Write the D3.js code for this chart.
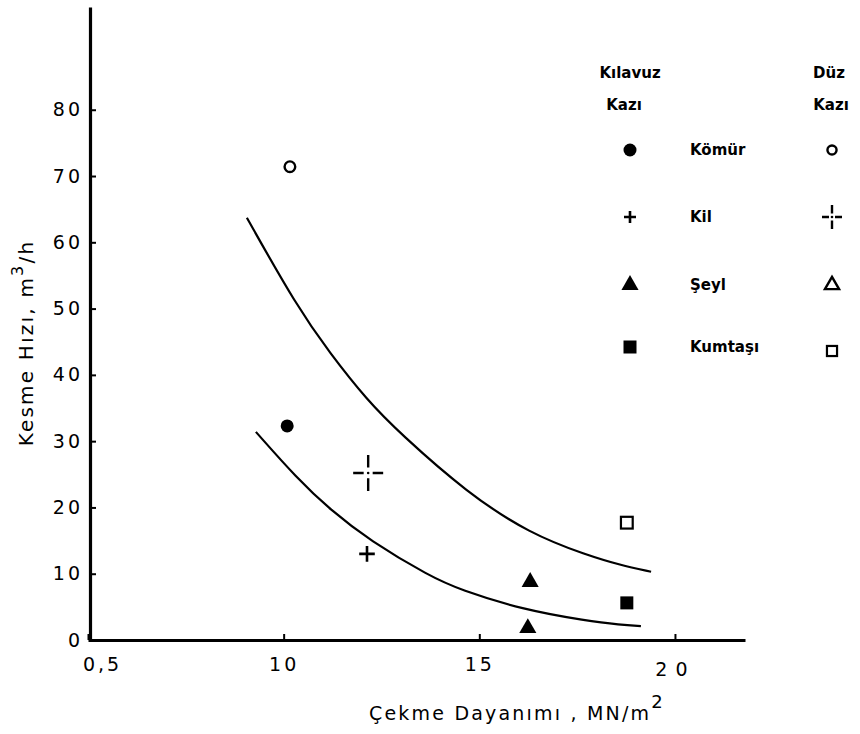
<!DOCTYPE html>
<html>
<head>
<meta charset="utf-8">
<script src="https://cdn.jsdelivr.net/npm/d3@7"></script>
<style>
  body { margin: 0; background: #fff; }
  svg { display: block; font-family: "DejaVu Sans", sans-serif; }
</style>
</head>
<body>
<svg id="drawing_region"></svg>
<script>
// tick values / labels
const xTickValues = [5, 10, 15, 20]
const xTickLabels = ['0,5', '10', '15', '20']
const yTickValues = [0, 10, 20, 30, 40, 50, 60, 70, 80]

// materials + legend
const materials = ['Kömür', 'Kil', 'Şeyl', 'Kumtaşı']
const kilavuzSymbols = ['dot', 'plus', 'tri', 'square']
const duzSymbols = ['ring', 'dashcross', 'opentri', 'opensquare']

// Kılavuz kazı points (filled)
const kilavuzMaterial = ['Kömür', 'Kil', 'Şeyl', 'Şeyl', 'Kumtaşı']
const kilavuzX = [10.09, 12.13, 16.3, 16.24, 18.77]
const kilavuzY = [32.3, 13.0, 8.75, 1.8, 5.6]

// Düz kazı points (open)
const duzMaterial = ['Kömür', 'Kil', 'Kumtaşı']
const duzX = [10.16, 12.16, 18.77]
const duzY = [71.4, 25.2, 17.7]

// fitted curves
const upperCurveX = [9.06, 10.34, 11.18, 12.13, 12.97, 14.69, 16.3, 17.75, 18.6, 19.39]
const upperCurveY = [63.7, 50.3, 43.3, 36.2, 31.2, 22.2, 16.0, 12.8, 11.3, 10.3]
const lowerCurveX = [9.29, 10.34, 11.18, 12.2, 13.74, 14.5, 16.1, 17.75, 18.6, 19.13]
const lowerCurveY = [31.4, 24.4, 19.7, 15.0, 9.6, 7.6, 4.6, 2.9, 2.3, 2.1]

class CutChart {
    constructor(config) {
        this.config = config
        this.init()
    }

    init() {
        let self = this
        self.svg = d3.select(self.config.parent)
            .attr('width', self.config.width)
            .attr('height', self.config.height)

        self.xscale = d3.scaleLinear().domain([5, 21.79]).range([88, 745])
        self.yscale = d3.scaleLinear().domain([0, 95.5]).range([640, 7])
    }

    marker(g, type, size) {
        let s = size
        if (type === 'dot') {
            g.append('circle').attr('r', s * 0.5).attr('fill', '#000')
        } else if (type === 'ring') {
            g.append('circle').attr('r', s * 0.38).attr('fill', 'none').attr('stroke', '#000').attr('stroke-width', 2.4)
        } else if (type === 'plus') {
            g.append('path')
                .attr('d', `M${-s * 0.6},0H${s * 0.6}M0,${-s * 0.6}V${s * 0.6}`)
                .attr('stroke', '#000').attr('stroke-width', 2.6)
        } else if (type === 'dashcross') {
            let w = s, h = s * 1.2
            g.append('path')
                .attr('d', `M${-w},0H${-w * 0.3}M${w * 0.3},0H${w}M0,${-h}V${-h * 0.3}M0,${h * 0.3}V${h}`)
                .attr('stroke', '#000').attr('stroke-width', 2.4).attr('fill', 'none')
            g.append('circle').attr('r', 1.3).attr('fill', '#000')
        } else if (type === 'tri') {
            g.append('path').attr('d', d3.symbol(d3.symbolTriangle, s * s * 0.75)()).attr('fill', '#000')
        } else if (type === 'opentri') {
            g.append('path').attr('d', d3.symbol(d3.symbolTriangle, s * s * 0.6)())
                .attr('fill', 'none').attr('stroke', '#000').attr('stroke-width', 2.4)
        } else if (type === 'square') {
            g.append('rect').attr('x', -s / 2).attr('y', -s / 2).attr('width', s).attr('height', s).attr('fill', '#000')
        } else if (type === 'opensquare') {
            g.append('rect').attr('x', -s * 0.42).attr('y', -s * 0.42).attr('width', s * 0.84).attr('height', s * 0.84)
                .attr('fill', 'none').attr('stroke', '#000').attr('stroke-width', 2.2)
        }
    }

    render() {
        let self = this
        const xs = self.xscale, ys = self.yscale

        // axes (ticks point inward)
        const xaxis = d3.axisBottom(xs).tickValues(xTickValues)
            .tickFormat((d, i) => xTickLabels[i]).tickSizeInner(-6).tickSizeOuter(0).tickPadding(18)
        const yaxis = d3.axisLeft(ys).tickValues(yTickValues)
            .tickSizeInner(-6).tickSizeOuter(0).tickPadding(7)

        const xg = self.svg.append('g').attr('transform', 'translate(0,640)').call(xaxis)
        const yg = self.svg.append('g').attr('transform', 'translate(90,0)').call(yaxis)

        for (const g of [xg, yg]) {
            g.select('.domain').attr('stroke', '#000').attr('stroke-width', 3.2)
            g.selectAll('.tick line').attr('stroke', '#000').attr('stroke-width', 2)
            g.selectAll('.tick text').attr('fill', '#000')
                .attr('font-size', 19).attr('letter-spacing', 3)
                .attr('font-family', '"DejaVu Sans", sans-serif')
        }
        xg.selectAll('.tick text').filter(d => d === 5).attr('dx', 14)
        xg.selectAll('.tick text').filter(d => d === 20).attr('dy', '0.95em').attr('letter-spacing', 8)

        // curves
        const line = d3.line().x(d => xs(d[0])).y(d => ys(d[1])).curve(d3.curveBasis)
        self.svg.append('path').datum(d3.zip(upperCurveX, upperCurveY)).attr('d', line)
            .attr('fill', 'none').attr('stroke', '#000').attr('stroke-width', 2.2)
        self.svg.append('path').datum(d3.zip(lowerCurveX, lowerCurveY)).attr('d', line)
            .attr('fill', 'none').attr('stroke', '#000').attr('stroke-width', 2.2)

        // points
        kilavuzX.forEach((x, i) => {
            const g = self.svg.append('g').attr('transform', `translate(${xs(x)},${ys(kilavuzY[i])})`)
            self.marker(g, kilavuzSymbols[materials.indexOf(kilavuzMaterial[i])], 13)
        })
        duzX.forEach((x, i) => {
            const type = duzSymbols[materials.indexOf(duzMaterial[i])]
            const g = self.svg.append('g').attr('transform', `translate(${xs(x)},${ys(duzY[i])})`)
            self.marker(g, type, type === 'dashcross' ? 15 : 14)
        })

        // axis titles
        const yt = self.svg.append('text')
            .attr('transform', 'translate(33,343) rotate(-90)')
            .attr('text-anchor', 'middle').attr('font-size', 20).attr('letter-spacing', 2.2)
        yt.append('tspan').text('Kesme  Hızı,  m')
        yt.append('tspan').text('3').attr('dy', -10).attr('font-size', 16)
        yt.append('tspan').text('/h').attr('dy', 10)

        const xt = self.svg.append('text')
            .attr('x', 517).attr('y', 720)
            .attr('text-anchor', 'middle').attr('font-size', 19).attr('letter-spacing', 2.2)
        xt.append('tspan').text('Çekme  Dayanımı , MN/m')
        xt.append('tspan').text('2').attr('dy', -12).attr('font-size', 18)

        // legend
        const lg = self.svg.append('g').attr('font-weight', 'bold').attr('font-size', 15)
        lg.append('text').attr('x', 630).attr('y', 78).attr('text-anchor', 'middle').text('Kılavuz')
        lg.append('text').attr('x', 624).attr('y', 110).attr('text-anchor', 'middle').text('Kazı')
        lg.append('text').attr('x', 829).attr('y', 78).attr('text-anchor', 'middle').text('Düz')
        lg.append('text').attr('x', 831).attr('y', 110).attr('text-anchor', 'middle').text('Kazı')

        const rowY = [150, 217, 285, 347]
        materials.forEach((m, i) => {
            const a = lg.append('g').attr('transform', `translate(630,${rowY[i]})`)
            self.marker(a, kilavuzSymbols[i], kilavuzSymbols[i] === 'plus' ? 10 : 13)
            lg.append('text').attr('x', 690).attr('y', rowY[i] + 5).text(m)
            const b = lg.append('g').attr('transform', `translate(832,${rowY[i] + (i === 3 ? 4 : 0)})`)
            self.marker(b, duzSymbols[i], duzSymbols[i] === 'dashcross' ? 10 : 12)
        })
    }
}

const config = { parent: '#drawing_region', width: 860, height: 734 }
const chart = new CutChart(config)
chart.render()
</script>
</body>
</html>
